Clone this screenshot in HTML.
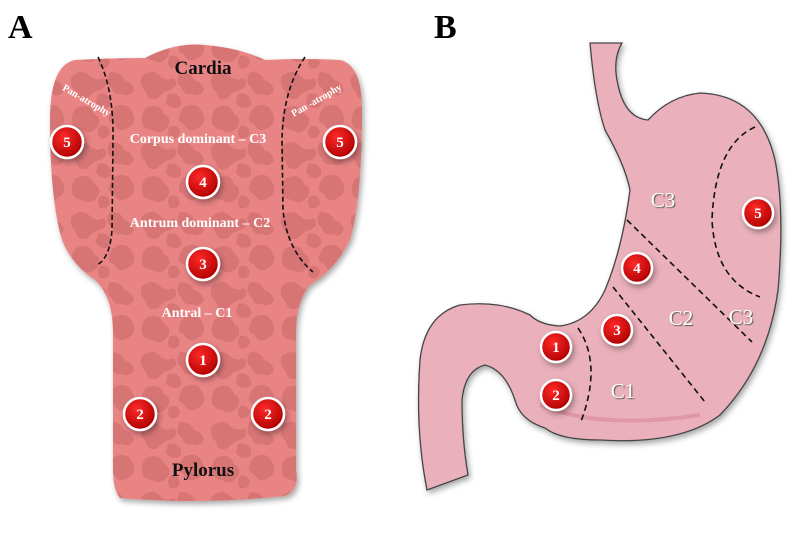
<!DOCTYPE html>
<html><head><meta charset="utf-8"><style>
html,body{margin:0;padding:0;background:#fff;}
svg{display:block;}
</style></head><body>
<svg width="800" height="533" viewBox="0 0 800 533" xmlns="http://www.w3.org/2000/svg">
<defs>
<pattern id="tex" width="70" height="70" patternUnits="userSpaceOnUse">
<rect width="70" height="70" fill="#e88484"/>
<path d="M2 6 q10 -8 18 0 q6 6 14 2 q6 8 -4 12 q-8 2 -12 8 q-10 4 -12 -6 q-8 -8 -4 -16z" fill="#d77474"/>
<path d="M40 2 q12 0 14 8 q8 2 10 10 q-4 8 -12 4 q-8 2 -10 -6 q-8 -6 -2 -16z" fill="#d77474"/>
<path d="M46 36 q12 -4 16 6 q6 10 -4 16 q-10 6 -14 -4 q-8 -2 -4 -10 q2 -6 6 -8z" fill="#d77474"/>
<path d="M6 38 q14 -6 18 6 q8 4 4 12 q-6 10 -16 4 q-12 -2 -10 -12 q0 -6 4 -10z" fill="#d77474"/>
<path d="M28 24 q8 -2 12 4 q4 8 -4 10 q-8 0 -10 -6z" fill="#d77474"/>
<path d="M30 56 q8 -2 10 6 q-2 8 -10 6 q-4 -6 0 -12z" fill="#d77474"/>
</pattern>
<filter id="sh" x="-20%" y="-20%" width="140%" height="140%"><feDropShadow dx="2" dy="3" stdDeviation="3" flood-color="#000" flood-opacity="0.35"/></filter>
<radialGradient id="rg" cx="40%" cy="35%" r="65%"><stop offset="0" stop-color="#ff2a2a"/><stop offset="1" stop-color="#b00000"/></radialGradient>
</defs>

<text x="8" y="38" font-family="Liberation Serif" font-weight="bold" font-size="34" fill="#000">A</text>
<text x="434" y="38" font-family="Liberation Serif" font-weight="bold" font-size="34" fill="#000">B</text>

<!-- Panel A -->
<path filter="url(#sh)" fill="url(#tex)" d="M75 60 Q110 58 145 58 Q175 42 205 45 Q240 48 265 60 Q305 58 340 60 Q362 65 362 110 Q362 200 350 240 Q335 270 310 285 Q297 300 296 330 L296 470 Q300 490 285 496 Q200 505 120 498 Q113 490 113 470 L113 330 Q112 295 95 280 Q72 265 62 240 Q50 200 50 120 Q50 65 75 60Z"/>
<path d="M98 57 Q114 90 113 140 L112 230 Q110 258 97 265" fill="none" stroke="#111" stroke-width="1.6" stroke-dasharray="5,3"/>
<path d="M305 57 Q283 90 282 140 L283 210 Q287 250 313 272" fill="none" stroke="#111" stroke-width="1.6" stroke-dasharray="5,3"/>

<g font-family="Liberation Serif" font-weight="bold" text-anchor="middle">
<text x="203" y="74" font-size="19" fill="#111">Cardia</text>
<text x="203" y="476" font-size="19" fill="#111">Pylorus</text>
<text x="198" y="143" font-size="14" fill="#fff">Corpus dominant – C3</text>
<text x="200" y="227" font-size="14" fill="#fff">Antrum dominant – C2</text>
<text x="197" y="317" font-size="14" fill="#fff">Antral – C1</text>
<text font-size="10" fill="#fff" transform="translate(85,103) rotate(30)">Pan-atrophy</text>
<text font-size="10" fill="#fff" transform="translate(318,103) rotate(-30)">Pan -atrophy</text>
<text font-size="10" fill="#fff" transform="translate(730,205) rotate(-80)">Pan - atrophy</text>
</g>

<!-- Panel B -->
<path filter="url(#sh)" fill="#eab0bb" stroke="#444" stroke-width="1.3" d="M590 43 L622 43 Q612 60 618 85 Q625 118 648 120 Q670 96 700 93 Q760 95 775 160 Q785 210 778 290 Q768 365 720 415 Q680 445 600 440 Q560 440 545 428 Q520 420 515 400 Q505 370 485 365 Q465 370 462 400 Q462 440 468 475 L427 490 Q415 430 420 360 Q425 315 460 305 Q500 300 530 315 Q540 325 560 326 Q590 322 605 290 Q622 250 630 190 Q625 165 605 130 Q595 100 590 43Z"/>
<path d="M540 405 Q600 430 700 415" fill="none" stroke="#d88797" stroke-width="4" opacity="0.6"/>
<g fill="none" stroke="#111" stroke-width="1.6" stroke-dasharray="6,4">
<path d="M755 127 Q715 145 712 220 Q715 280 760 297"/>
<path d="M627 220 L752 342"/>
<path d="M613 287 L705 402"/>
<path d="M578 328 Q603 365 580 424"/>
</g>
<g font-family="Liberation Serif" font-size="21" fill="#fff" text-anchor="middle" style="text-shadow:1px 1px 1px #555">
<text x="663" y="207">C3</text>
<text x="681" y="325">C2</text>
<text x="741" y="324">C3</text>
<text x="623" y="398">C1</text>
</g>

<!-- circles -->
<g font-family="Liberation Serif" font-weight="bold" font-size="15" fill="#fff" text-anchor="middle">
<g filter="url(#sh)">
<circle cx="67" cy="142" r="16" fill="url(#rg)" stroke="#fff" stroke-width="2.5"/>
<circle cx="340" cy="142" r="16" fill="url(#rg)" stroke="#fff" stroke-width="2.5"/>
<circle cx="203" cy="182" r="16" fill="url(#rg)" stroke="#fff" stroke-width="2.5"/>
<circle cx="203" cy="264" r="16" fill="url(#rg)" stroke="#fff" stroke-width="2.5"/>
<circle cx="203" cy="360" r="16" fill="url(#rg)" stroke="#fff" stroke-width="2.5"/>
<circle cx="140" cy="414" r="16" fill="url(#rg)" stroke="#fff" stroke-width="2.5"/>
<circle cx="268" cy="414" r="16" fill="url(#rg)" stroke="#fff" stroke-width="2.5"/>
<circle cx="758" cy="213" r="15" fill="url(#rg)" stroke="#fff" stroke-width="2.5"/>
<circle cx="637" cy="268" r="15" fill="url(#rg)" stroke="#fff" stroke-width="2.5"/>
<circle cx="617" cy="330" r="15" fill="url(#rg)" stroke="#fff" stroke-width="2.5"/>
<circle cx="556" cy="347" r="15" fill="url(#rg)" stroke="#fff" stroke-width="2.5"/>
<circle cx="556" cy="395" r="15" fill="url(#rg)" stroke="#fff" stroke-width="2.5"/>
</g>
<text x="67" y="147">5</text><text x="340" y="147">5</text>
<text x="203" y="187">4</text><text x="203" y="269">3</text>
<text x="203" y="365">1</text><text x="140" y="419">2</text><text x="268" y="419">2</text>
<text x="758" y="218">5</text><text x="637" y="273">4</text><text x="617" y="335">3</text>
<text x="556" y="352">1</text><text x="556" y="400">2</text>
</g>
</svg>
</body></html>
